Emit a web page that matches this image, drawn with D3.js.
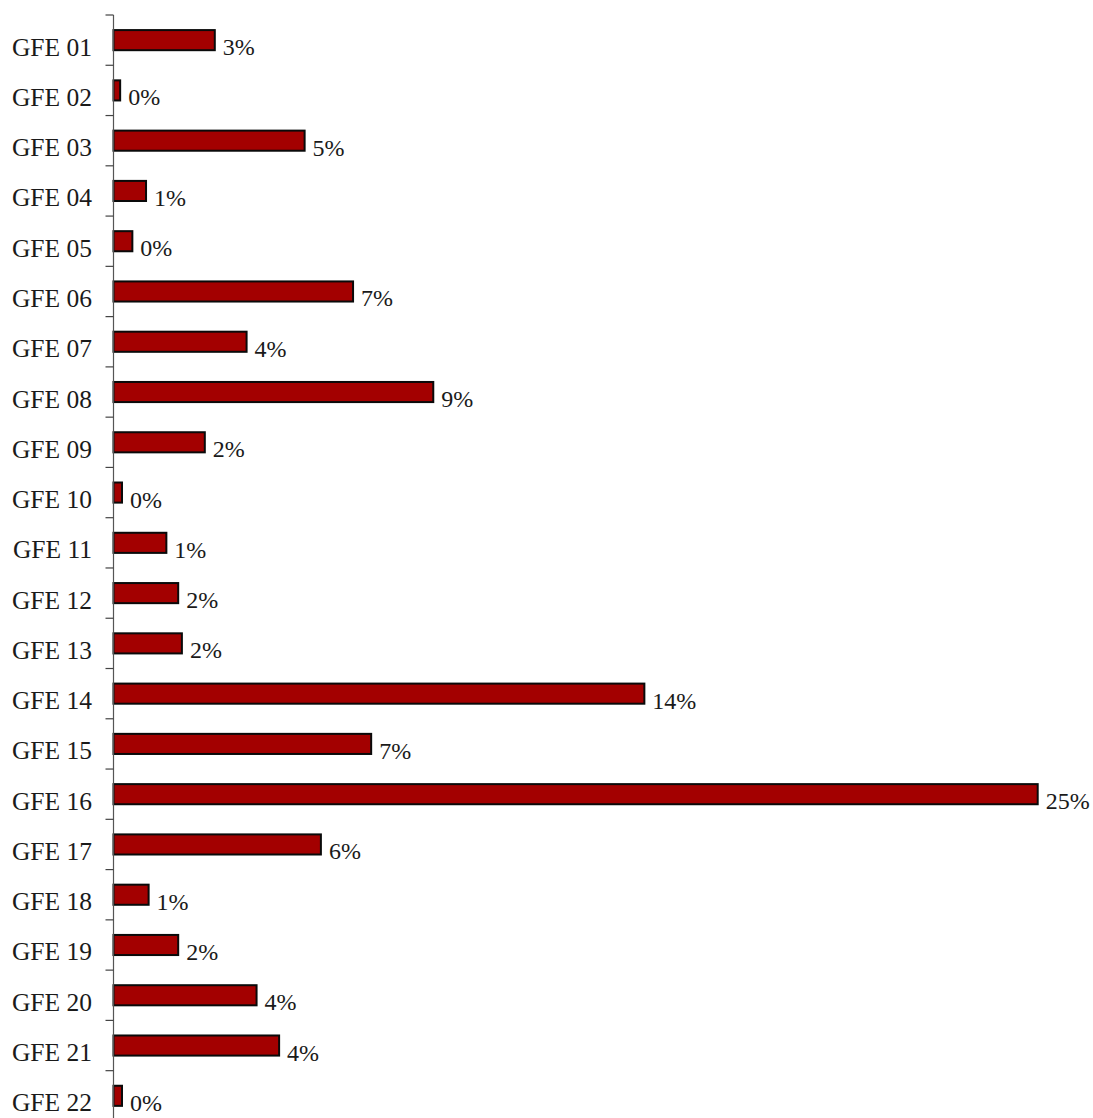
<!DOCTYPE html>
<html>
<head>
<meta charset="utf-8">
<script src="https://cdn.jsdelivr.net/npm/d3@7"></script>
<style>
  html, body { margin: 0; padding: 0; background: #fff; }
  svg { display: block; }
</style>
</head>
<body>
<svg id="chart" width="1093" height="1118"></svg>
<script>
const categories = ["GFE 01","GFE 02","GFE 03","GFE 04","GFE 05","GFE 06","GFE 07","GFE 08","GFE 09","GFE 10","GFE 11","GFE 12","GFE 13","GFE 14","GFE 15","GFE 16","GFE 17","GFE 18","GFE 19","GFE 20","GFE 21","GFE 22"];
const values = [2.74, 0.18, 5.17, 0.88, 0.51, 6.48, 3.60, 8.65, 2.47, 0.23, 1.43, 1.75, 1.85, 14.36, 6.97, 25.0, 5.61, 0.95, 1.75, 3.87, 4.48, 0.23];
const valueLabels = ["3%","0%","5%","1%","0%","7%","4%","9%","2%","0%","1%","2%","2%","14%","7%","25%","6%","1%","2%","4%","4%","0%"];

const svg = d3.select("#chart");
const axisX = 113.5;
const topY = 15;
const stepY = 50.27;
const fontFamily = "'Liberation Serif', 'DejaVu Serif', serif";

const x = d3.scaleLinear().domain([0, 25]).range([axisX, axisX + 924.2]);
const y = d3.scaleBand()
  .domain(categories)
  .range([topY, topY + stepY * categories.length])
  .paddingInner(0.6)
  .paddingOuter(0.3);

// bars
svg.append("g").selectAll("rect")
  .data(categories)
  .join("rect")
  .attr("x", axisX)
  .attr("y", d => y(d))
  .attr("width", (d, i) => x(values[i]) - axisX)
  .attr("height", y.bandwidth())
  .attr("fill", "#a30000")
  .attr("stroke", "#0a0a0a")
  .attr("stroke-width", 2);

// axis line and ticks
const axis = svg.append("g");
axis.append("line")
  .attr("x1", axisX).attr("x2", axisX)
  .attr("y1", topY).attr("y2", 1118)
  .attr("stroke", "#555").attr("stroke-width", 1.2);
const boundaries = d3.range(categories.length + 1).map(i => topY + i * y.step());
axis.selectAll("line.tick")
  .data(boundaries)
  .join("line")
  .attr("class", "tick")
  .attr("x1", axisX - 8).attr("x2", axisX)
  .attr("y1", d => d).attr("y2", d => d)
  .attr("stroke", "#444").attr("stroke-width", 1.2);

// category labels
svg.append("g").selectAll("text")
  .data(categories)
  .join("text")
  .attr("x", 92)
  .attr("y", d => y(d) + y.bandwidth() / 2 + 7)
  .attr("text-anchor", "end")
  .attr("dominant-baseline", "central")
  .attr("font-family", fontFamily)
  .attr("font-size", 25.5)
  .attr("fill", "#1a1a1a")
  .text(d => d);

// value labels
svg.append("g").selectAll("text")
  .data(categories)
  .join("text")
  .attr("x", (d, i) => x(values[i]) + 8)
  .attr("y", d => y(d) + y.bandwidth() / 2 + 7)
  .attr("dominant-baseline", "central")
  .attr("font-family", fontFamily)
  .attr("font-size", 24)
  .attr("fill", "#1a1a1a")
  .text((d, i) => valueLabels[i]);
</script>
</body>
</html>
